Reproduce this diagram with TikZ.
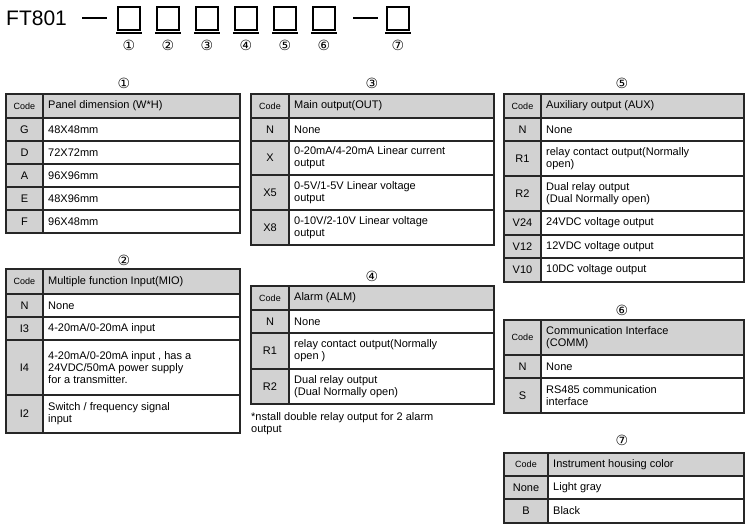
\documentclass[tikz,border=0pt]{standalone}
\usepackage{fontspec}
\setmainfont{Liberation Sans}
\newfontfamily\symfont{DejaVu Sans}
\definecolor{cellgray}{HTML}{D2D2D2}
\tikzset{
  cell/.style={draw=black!85,line width=1.2pt},
  codetxt/.style={inner sep=0pt,font=\fontsize{11}{12}\selectfont},
  celltxt/.style={anchor=west,inner sep=0pt,align=left,font=\fontsize{11}{12}\selectfont},
  numtxt/.style={inner sep=0pt,font=\symfont\fontsize{14}{14}\selectfont}
}
% x0, x-code, x1, y-top, y-bottom, code, text
\newcommand\trow[7]{%
  \fill[cellgray] (#1,#4) rectangle (#2,#5);
  \draw[cell] (#1,#4) rectangle (#2,#5) (#2,#4) rectangle (#3,#5);
  \node[codetxt] (c-#6-#4) at ({(#1+#2)/2},{(#4+#5)/2}) {#6};
  \node[celltxt] (t-#6-#4) at ({#2+5},{(#4+#5)/2}) {#7};}
\newcommand\thead[6]{%
  \fill[cellgray] (#1,#4) rectangle (#3,#5);
  \draw[cell] (#1,#4) rectangle (#2,#5) (#2,#4) rectangle (#3,#5);
  \node[codetxt,font=\fontsize{9}{10}\selectfont] (h-#4) at ({(#1+#2)/2},{(#4+#5)/2}) {Code};
  \node[celltxt] (ht-#4) at ({#2+5},{(#4+#5)/2}) {#6};}
\begin{document}
\begin{tikzpicture}[x=1pt,y=-1pt]
\useasboundingbox (0,0) rectangle (750,530);

% part number
\node[anchor=west,inner sep=0pt,font=\fontsize{21}{21}\selectfont] (ft) at (6,18) {FT801};
\draw[line width=2pt] (82,18) -- (107,18) (353,18) -- (378,18);
\foreach \x/\n in {118/1,157/2,196/3,235/4,274/5,313/6,387/7}{
  \draw[line width=1.3pt] (\x,7) rectangle ++(22,23);
  \draw[line width=1.3pt] (\x-2,33) -- ++(26,0);
  \node[numtxt] (n\n) at (\x+11,45) {\ifcase\n\or①\or②\or③\or④\or⑤\or⑥\or⑦\fi};
}

% 1
\node[numtxt] (s1) at (124,83) {①};
\thead{6}{43}{240}{94}{118}{Panel dimension (W*H)}
\foreach \y/\c/\t in {118/G/48X48mm,141/D/72X72mm,164/A/96X96mm,187/E/48X96mm,210/F/96X48mm}
  {\trow{6}{43}{240}{\y}{\y+23}{\c}{\t}}

% 2
\node[numtxt] (s2) at (124,260) {②};
\thead{6}{43}{240}{269}{294}{Multiple function Input(MIO)}
\trow{6}{43}{240}{294}{317}{N}{None}
\trow{6}{43}{240}{317}{340}{I3}{4-20mA/0-20mA input}
\trow{6}{43}{240}{340}{395}{I4}{4-20mA/0-20mA input , has a\\24VDC/50mA power supply\\for a transmitter.}
\trow{6}{43}{240}{395}{433}{I2}{Switch / frequency signal\\input}

% 3
\node[numtxt] (s3) at (372,83) {③};
\thead{251}{289}{494}{94}{118}{Main output(OUT)}
\trow{251}{289}{494}{118}{141}{N}{None}
\trow{251}{289}{494}{141}{175}{X}{0-20mA/4-20mA Linear current\\output}
\trow{251}{289}{494}{175}{210}{X5}{0-5V/1-5V Linear voltage\\output}
\trow{251}{289}{494}{210}{245}{X8}{0-10V/2-10V Linear voltage\\output}

% 4
\node[numtxt] (s4) at (372,276) {④};
\thead{251}{289}{494}{286}{310}{Alarm (ALM)}
\trow{251}{289}{494}{310}{333}{N}{None}
\trow{251}{289}{494}{333}{369}{R1}{relay contact output(Normally\\open )}
\trow{251}{289}{494}{369}{404}{R2}{Dual relay output\\(Dual Normally open)}
\node[celltxt,anchor=north west] (note) at (251,412) {*nstall double relay output for 2 alarm\\output};

% 5
\node[numtxt] (s5) at (622,83) {⑤};
\thead{504}{541}{744}{94}{118}{Auxiliary output (AUX)}
\trow{504}{541}{744}{118}{141}{N}{None}
\trow{504}{541}{744}{141}{176}{R1}{relay contact output(Normally\\open)}
\trow{504}{541}{744}{176}{211}{R2}{Dual relay output\\(Dual Normally open)}
\trow{504}{541}{744}{211}{235}{V24}{24VDC voltage output}
\trow{504}{541}{744}{235}{258}{V12}{12VDC voltage output}
\trow{504}{541}{744}{258}{282}{V10}{10DC voltage output}

% 6
\node[numtxt] (s6) at (622,310) {⑥};
\thead{504}{541}{744}{320}{355}{Communication Interface\\ (COMM)}
\trow{504}{541}{744}{355}{378}{N}{None}
\trow{504}{541}{744}{378}{413}{S}{RS485 communication\\interface}

% 7
\node[numtxt] (s7) at (622,440) {⑦};
\thead{504}{548}{744}{453}{476}{Instrument housing color}
\trow{504}{548}{744}{476}{499}{None}{Light gray}
\trow{504}{548}{744}{499}{523}{B}{Black}
\end{tikzpicture}
\end{document}
